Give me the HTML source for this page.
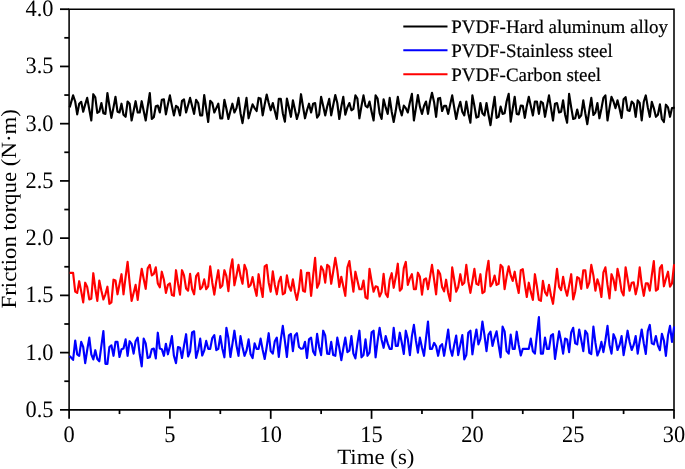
<!DOCTYPE html>
<html lang="en">
<head>
<meta charset="utf-8">
<title>Friction torque vs. time</title>
<style>
html,body{margin:0;padding:0;background:#fff;}
body{width:685px;height:469px;overflow:hidden;}
svg{display:block;will-change:transform;}
text{text-rendering:geometricPrecision;}
</style>
</head>
<body>
<svg width="685" height="469" viewBox="0 0 685 469">
<rect width="685" height="469" fill="#fff"/>
<g stroke="#000" stroke-width="1.55" fill="none" stroke-linecap="butt">
<path d="M69.1,9.2 H674.0 V409.85 H69.1 Z"/>
</g>
<g stroke="#000" stroke-width="1.75" fill="none" stroke-linecap="butt">
<path d="M60.00,409.85 H69.10"/>
<path d="M64.30,381.23 H69.10"/>
<path d="M60.00,352.61 H69.10"/>
<path d="M64.30,324.00 H69.10"/>
<path d="M60.00,295.38 H69.10"/>
<path d="M64.30,266.76 H69.10"/>
<path d="M60.00,238.14 H69.10"/>
<path d="M64.30,209.53 H69.10"/>
<path d="M60.00,180.91 H69.10"/>
<path d="M64.30,152.29 H69.10"/>
<path d="M60.00,123.67 H69.10"/>
<path d="M64.30,95.05 H69.10"/>
<path d="M60.00,66.44 H69.10"/>
<path d="M64.30,37.82 H69.10"/>
<path d="M60.00,9.20 H69.10"/>
<path d="M69.10,409.85 V418.85"/>
<path d="M119.51,409.85 V414.05"/>
<path d="M169.92,409.85 V418.85"/>
<path d="M220.32,409.85 V414.05"/>
<path d="M270.73,409.85 V418.85"/>
<path d="M321.14,409.85 V414.05"/>
<path d="M371.55,409.85 V418.85"/>
<path d="M421.96,409.85 V414.05"/>
<path d="M472.37,409.85 V418.85"/>
<path d="M522.77,409.85 V414.05"/>
<path d="M573.18,409.85 V418.85"/>
<path d="M623.59,409.85 V414.05"/>
<path d="M674.00,409.85 V418.85"/>
</g>
<path d="M69.7,107.4 L71.1,102.4 L73.1,95.4 L75.2,101.5 L77.2,114.4 L79.2,103.7 L81.2,101.8 L83.2,111.7 L85.2,104.4 L87.2,97.9 L89.3,109.5 L91.3,120.5 L93.3,94.2 L95.3,97.4 L97.3,112.9 L99.3,111.7 L101.4,103.0 L103.4,113.2 L105.4,113.9 L107.4,93.0 L109.4,105.9 L111.4,117.9 L113.5,107.4 L115.5,96.8 L117.5,111.7 L119.5,112.5 L121.5,103.7 L123.5,114.7 L125.6,116.8 L127.6,101.5 L129.6,103.7 L131.6,120.5 L133.6,111.0 L135.6,101.2 L137.7,112.5 L139.7,112.5 L141.7,101.2 L143.7,111.0 L145.7,120.5 L147.7,106.6 L149.8,93.0 L151.8,119.0 L153.8,117.3 L155.8,106.2 L157.8,105.6 L159.8,112.5 L161.8,99.8 L163.9,99.3 L165.9,114.4 L167.9,104.4 L169.9,95.4 L171.9,105.9 L173.9,115.4 L176.0,105.9 L178.0,107.4 L180.0,115.4 L182.0,100.8 L184.0,99.3 L186.1,112.5 L188.1,105.2 L190.1,97.9 L192.1,105.9 L194.1,113.9 L196.1,99.8 L198.2,103.0 L200.2,115.4 L202.2,115.4 L204.2,95.0 L206.2,108.8 L208.2,122.0 L210.2,100.8 L212.3,103.0 L214.3,112.5 L216.3,108.1 L218.3,103.7 L220.3,118.3 L222.3,118.3 L224.4,99.8 L226.4,108.8 L228.4,119.0 L230.4,111.0 L232.4,103.7 L234.4,112.5 L236.5,108.1 L238.5,97.9 L240.5,113.2 L242.5,123.1 L244.5,110.3 L246.5,97.9 L248.6,118.3 L250.6,111.0 L252.6,104.4 L254.6,108.1 L256.6,111.0 L258.6,97.9 L260.6,98.6 L262.7,115.4 L264.7,104.4 L266.7,94.5 L268.7,103.0 L270.7,110.3 L272.8,103.0 L274.8,111.0 L276.8,119.0 L278.8,98.9 L280.8,98.9 L282.8,113.2 L284.9,121.7 L286.9,98.6 L288.9,107.4 L290.9,116.8 L292.9,100.3 L294.9,109.5 L296.9,119.0 L299.0,111.7 L301.0,94.2 L303.0,106.6 L305.0,118.3 L307.0,110.3 L309.0,103.7 L311.1,112.5 L313.1,103.7 L315.1,103.0 L317.1,117.6 L319.1,114.7 L321.1,96.8 L323.2,105.9 L325.2,115.4 L327.2,106.6 L329.2,98.9 L331.2,115.4 L333.2,105.2 L335.3,95.0 L337.3,103.0 L339.3,119.0 L341.3,106.6 L343.3,96.8 L345.3,114.7 L347.4,107.4 L349.4,103.0 L351.4,110.3 L353.4,108.8 L355.4,95.4 L357.4,98.6 L359.4,118.3 L361.5,105.9 L363.5,95.4 L365.5,105.9 L367.5,107.4 L369.5,101.5 L371.6,111.7 L373.6,120.5 L375.6,95.4 L377.6,98.6 L379.6,113.2 L381.6,119.0 L383.6,99.3 L385.7,107.4 L387.7,113.9 L389.7,97.9 L391.7,111.7 L393.7,122.0 L395.8,110.3 L397.8,96.8 L399.8,108.8 L401.8,115.4 L403.8,105.6 L405.8,108.1 L407.8,112.5 L409.9,102.2 L411.9,93.9 L413.9,120.5 L415.9,108.1 L417.9,95.0 L419.9,106.6 L422.0,113.9 L424.0,105.9 L426.0,101.5 L428.0,113.9 L430.0,101.5 L432.0,92.8 L434.1,102.2 L436.1,116.8 L438.1,98.6 L440.1,97.9 L442.1,111.0 L444.1,105.9 L446.1,105.9 L448.2,113.9 L450.2,104.4 L452.2,95.4 L454.2,107.4 L456.2,119.0 L458.2,108.8 L460.3,101.8 L462.3,111.7 L464.3,115.4 L466.3,101.5 L468.3,113.2 L470.4,122.7 L472.4,95.4 L474.4,105.9 L476.4,117.6 L478.4,116.8 L480.4,103.0 L482.4,113.2 L484.5,115.4 L486.5,103.0 L488.5,114.7 L490.5,125.2 L492.5,110.3 L494.6,96.8 L496.6,117.9 L498.6,116.8 L500.6,106.6 L502.6,113.9 L504.6,113.2 L506.6,101.5 L508.7,93.9 L510.7,121.7 L512.7,108.8 L514.7,96.8 L516.7,113.9 L518.7,114.4 L520.8,105.6 L522.8,105.9 L524.8,117.9 L526.8,105.9 L528.8,96.8 L530.8,105.9 L532.9,115.4 L534.9,101.5 L536.9,101.5 L538.9,113.9 L540.9,101.5 L542.9,103.0 L545.0,116.8 L547.0,105.9 L549.0,95.4 L551.0,108.1 L553.0,120.5 L555.0,103.7 L557.0,103.0 L559.1,112.5 L561.1,111.7 L563.1,100.3 L565.1,114.7 L567.1,122.7 L569.1,93.9 L571.2,107.4 L573.2,119.0 L575.2,118.3 L577.2,109.5 L579.2,117.9 L581.2,115.4 L583.3,100.3 L585.3,113.2 L587.3,124.2 L589.3,110.3 L591.3,97.9 L593.4,115.0 L595.4,112.5 L597.4,103.0 L599.4,118.3 L601.4,108.8 L603.4,97.9 L605.4,95.4 L607.5,120.5 L609.5,108.1 L611.5,96.8 L613.5,101.5 L615.5,108.1 L617.5,100.3 L619.6,108.8 L621.6,117.9 L623.6,99.3 L625.6,97.1 L627.6,110.3 L629.6,111.0 L631.7,101.5 L633.7,103.7 L635.7,116.8 L637.7,100.3 L639.7,103.0 L641.7,120.5 L643.8,101.5 L645.8,95.4 L647.8,107.4 L649.8,116.8 L651.8,101.8 L653.8,108.1 L655.9,116.8 L657.9,114.7 L659.9,104.4 L661.9,119.0 L663.9,122.0 L665.9,104.7 L668.0,107.4 L670.0,116.8 L672.0,108.1 L674.0,107.7 L674.8,107.7" fill="none" stroke="#000000" stroke-width="2.15" stroke-linejoin="round" stroke-linecap="butt"/>
<path d="M69.7,272.9 L71.1,272.9 L73.1,272.9 L75.2,291.7 L77.2,292.9 L79.2,281.2 L81.2,291.4 L83.2,302.4 L85.2,282.7 L87.2,287.0 L89.3,299.4 L91.3,298.7 L93.3,273.2 L95.3,288.5 L97.3,300.9 L99.3,280.5 L101.4,290.7 L103.4,299.4 L105.4,294.3 L107.4,286.7 L109.4,303.8 L111.4,302.4 L113.5,279.7 L115.5,280.5 L117.5,294.3 L119.5,284.1 L121.5,274.2 L123.5,294.3 L125.6,276.8 L127.6,261.9 L129.6,282.7 L131.6,300.9 L133.6,292.9 L135.6,284.9 L137.7,299.9 L139.7,282.7 L141.7,268.8 L143.7,279.0 L145.7,288.8 L147.7,268.4 L149.8,264.9 L151.8,275.4 L153.8,273.9 L155.8,267.3 L157.8,283.4 L159.8,287.3 L161.8,271.7 L163.9,279.7 L165.9,292.9 L167.9,284.9 L169.9,283.4 L171.9,295.1 L173.9,295.8 L176.0,270.2 L178.0,283.4 L180.0,294.6 L182.0,270.2 L184.0,275.4 L186.1,288.5 L188.1,290.7 L190.1,273.9 L192.1,289.2 L194.1,294.3 L196.1,276.1 L198.2,273.2 L200.2,289.2 L202.2,287.0 L204.2,279.4 L206.2,289.2 L208.2,286.3 L210.2,266.3 L212.3,282.7 L214.3,294.6 L216.3,281.2 L218.3,270.2 L220.3,287.8 L222.3,285.6 L224.4,270.2 L226.4,276.1 L228.4,291.1 L230.4,269.5 L232.4,259.3 L234.4,285.3 L236.5,275.4 L238.5,264.9 L240.5,276.1 L242.5,283.8 L244.5,264.9 L246.5,270.2 L248.6,287.0 L250.6,284.9 L252.6,277.1 L254.6,287.8 L256.6,295.8 L258.6,274.2 L260.6,286.3 L262.7,297.0 L264.7,266.3 L266.7,264.9 L268.7,282.7 L270.7,291.7 L272.8,271.3 L274.8,284.9 L276.8,294.3 L278.8,281.9 L280.8,276.8 L282.8,294.3 L284.9,292.9 L286.9,275.4 L288.9,286.3 L290.9,290.7 L292.9,279.4 L294.9,291.4 L296.9,299.9 L299.0,288.5 L301.0,270.2 L303.0,290.7 L305.0,291.7 L307.0,272.7 L309.0,272.7 L311.1,295.8 L313.1,276.1 L315.1,257.8 L317.1,287.8 L319.1,283.4 L321.1,266.3 L323.2,270.2 L325.2,282.7 L327.2,264.9 L329.2,266.6 L331.2,283.8 L333.2,271.7 L335.3,257.8 L337.3,270.2 L339.3,287.0 L341.3,276.8 L343.3,286.3 L345.3,295.8 L347.4,267.3 L349.4,261.1 L351.4,276.8 L353.4,291.7 L355.4,271.7 L357.4,280.5 L359.4,289.2 L361.5,289.2 L363.5,280.5 L365.5,297.3 L367.5,298.7 L369.5,268.8 L371.6,281.2 L373.6,291.7 L375.6,286.3 L377.6,287.0 L379.6,296.5 L381.6,292.1 L383.6,273.9 L385.7,293.6 L387.7,297.0 L389.7,279.7 L391.7,273.2 L393.7,287.8 L395.8,276.8 L397.8,263.7 L399.8,290.7 L401.8,288.5 L403.8,268.1 L405.8,261.9 L407.8,284.9 L409.9,278.3 L411.9,274.2 L413.9,289.2 L415.9,289.2 L417.9,272.7 L419.9,276.8 L422.0,294.6 L424.0,279.7 L426.0,278.3 L428.0,289.2 L430.0,276.8 L432.0,264.9 L434.1,279.7 L436.1,294.3 L438.1,270.2 L440.1,273.9 L442.1,287.0 L444.1,291.4 L446.1,279.7 L448.2,292.9 L450.2,300.9 L452.2,267.3 L454.2,279.7 L456.2,291.7 L458.2,287.0 L460.3,274.2 L462.3,284.9 L464.3,282.7 L466.3,264.9 L468.3,281.2 L470.4,292.9 L472.4,281.2 L474.4,268.8 L476.4,283.8 L478.4,284.9 L480.4,274.2 L482.4,293.2 L484.5,291.7 L486.5,272.4 L488.5,260.8 L490.5,286.3 L492.5,283.4 L494.6,275.6 L496.6,284.9 L498.6,283.8 L500.6,264.9 L502.6,267.3 L504.6,289.2 L506.6,276.8 L508.7,266.3 L510.7,275.4 L512.7,280.9 L514.7,271.7 L516.7,284.1 L518.7,292.9 L520.8,270.2 L522.8,269.2 L524.8,284.1 L526.8,297.0 L528.8,282.7 L530.8,292.1 L532.9,299.9 L534.9,274.2 L536.9,286.3 L538.9,299.9 L540.9,300.9 L542.9,280.9 L545.0,292.1 L547.0,295.5 L549.0,284.9 L551.0,295.8 L553.0,303.8 L555.0,287.0 L557.0,268.8 L559.1,287.0 L561.1,290.2 L563.1,276.8 L565.1,288.5 L567.1,295.8 L569.1,285.6 L571.2,274.2 L573.2,299.4 L575.2,291.4 L577.2,277.1 L579.2,278.3 L581.2,288.8 L583.3,270.2 L585.3,270.2 L587.3,287.8 L589.3,282.7 L591.3,264.9 L593.4,275.4 L595.4,290.7 L597.4,279.4 L599.4,285.6 L601.4,297.0 L603.4,272.4 L605.4,267.3 L607.5,284.9 L609.5,298.4 L611.5,274.2 L613.5,279.7 L615.5,290.2 L617.5,268.8 L619.6,278.3 L621.6,291.4 L623.6,295.5 L625.6,267.3 L627.6,279.0 L629.6,290.7 L631.7,282.7 L633.7,282.4 L635.7,294.3 L637.7,285.6 L639.7,267.3 L641.7,284.1 L643.8,295.8 L645.8,283.4 L647.8,283.4 L649.8,290.7 L651.8,275.4 L653.8,261.1 L655.9,290.7 L657.9,289.2 L659.9,268.1 L661.9,265.1 L663.9,286.3 L665.9,279.0 L668.0,271.7 L670.0,286.7 L672.0,283.4 L674.0,265.1 L674.8,265.1" fill="none" stroke="#ff0000" stroke-width="2.15" stroke-linejoin="round" stroke-linecap="butt"/>
<path d="M69.7,356.1 L71.1,357.6 L73.1,359.9 L75.2,340.5 L77.2,354.3 L79.2,355.8 L81.2,341.9 L83.2,347.0 L85.2,363.1 L87.2,350.0 L89.3,337.6 L91.3,354.3 L93.3,359.4 L95.3,350.2 L97.3,359.0 L99.3,361.3 L101.4,345.6 L103.4,331.0 L105.4,363.8 L107.4,363.8 L109.4,347.0 L111.4,345.3 L113.5,355.8 L115.5,341.9 L117.5,341.9 L119.5,357.0 L121.5,349.2 L123.5,348.5 L125.6,339.4 L127.6,355.8 L129.6,341.2 L131.6,343.8 L133.6,353.6 L135.6,341.2 L137.7,337.6 L139.7,354.3 L141.7,366.3 L143.7,338.6 L145.7,343.4 L147.7,358.0 L149.8,357.3 L151.8,349.2 L153.8,348.5 L155.8,358.4 L157.8,332.7 L159.8,348.5 L161.8,349.2 L163.9,355.8 L165.9,343.8 L167.9,354.3 L169.9,346.3 L171.9,336.1 L173.9,355.8 L176.0,363.1 L178.0,347.0 L180.0,347.8 L182.0,358.0 L184.0,345.6 L186.1,334.2 L188.1,356.5 L190.1,351.4 L192.1,332.4 L194.1,331.3 L196.1,358.0 L198.2,350.0 L200.2,338.6 L202.2,355.5 L204.2,350.7 L206.2,340.9 L208.2,348.8 L210.2,348.8 L212.3,338.0 L214.3,335.1 L216.3,350.2 L218.3,348.8 L220.3,336.1 L222.3,348.5 L224.4,357.3 L226.4,327.8 L228.4,338.3 L230.4,357.0 L232.4,344.1 L234.4,330.7 L236.5,345.6 L238.5,355.8 L240.5,336.1 L242.5,347.0 L244.5,355.8 L246.5,350.7 L248.6,339.4 L250.6,354.3 L252.6,358.0 L254.6,343.4 L256.6,348.8 L258.6,348.8 L260.6,338.6 L262.7,350.0 L264.7,359.0 L266.7,347.0 L268.7,333.2 L270.7,351.1 L272.8,353.6 L274.8,341.2 L276.8,337.6 L278.8,357.0 L280.8,339.7 L282.8,325.9 L284.9,341.2 L286.9,357.0 L288.9,335.4 L290.9,333.9 L292.9,351.1 L294.9,335.4 L296.9,333.2 L299.0,347.0 L301.0,348.8 L303.0,348.5 L305.0,341.9 L307.0,358.0 L309.0,339.4 L311.1,337.6 L313.1,351.4 L315.1,355.1 L317.1,333.9 L319.1,347.0 L321.1,355.1 L323.2,330.7 L325.2,335.4 L327.2,353.6 L329.2,354.0 L331.2,341.9 L333.2,355.1 L335.3,355.8 L337.3,337.6 L339.3,347.8 L341.3,360.2 L343.3,348.5 L345.3,337.6 L347.4,352.1 L349.4,350.7 L351.4,336.1 L353.4,353.6 L355.4,358.4 L357.4,343.4 L359.4,330.7 L361.5,357.3 L363.5,355.1 L365.5,339.4 L367.5,355.8 L369.5,352.6 L371.6,332.4 L373.6,330.7 L375.6,357.3 L377.6,341.2 L379.6,327.8 L381.6,339.7 L383.6,347.8 L385.7,336.1 L387.7,343.4 L389.7,348.8 L391.7,348.8 L393.7,327.8 L395.8,345.9 L397.8,345.9 L399.8,332.7 L401.8,342.7 L403.8,354.0 L405.8,330.7 L407.8,339.0 L409.9,355.1 L411.9,336.1 L413.9,324.9 L415.9,340.5 L417.9,352.6 L419.9,337.6 L422.0,347.8 L424.0,355.8 L426.0,338.3 L428.0,321.5 L430.0,348.8 L432.0,348.8 L434.1,342.9 L436.1,346.3 L438.1,355.8 L440.1,346.3 L442.1,344.1 L444.1,355.8 L446.1,343.4 L448.2,329.5 L450.2,348.5 L452.2,355.8 L454.2,344.9 L456.2,335.6 L458.2,355.1 L460.3,344.9 L462.3,335.1 L464.3,359.4 L466.3,355.1 L468.3,332.7 L470.4,330.7 L472.4,354.3 L474.4,340.5 L476.4,329.5 L478.4,344.4 L480.4,339.0 L482.4,321.5 L484.5,335.4 L486.5,351.1 L488.5,334.6 L490.5,331.7 L492.5,345.9 L494.6,337.6 L496.6,331.3 L498.6,344.9 L500.6,357.3 L502.6,326.6 L504.6,331.3 L506.6,351.1 L508.7,353.6 L510.7,334.6 L512.7,348.8 L514.7,348.8 L516.7,331.7 L518.7,344.9 L520.8,355.5 L522.8,348.8 L524.8,348.8 L526.8,348.8 L528.8,348.8 L530.8,338.6 L532.9,351.4 L534.9,353.6 L536.9,334.6 L538.9,317.1 L540.9,353.6 L542.9,353.6 L545.0,337.6 L547.0,348.8 L549.0,348.8 L551.0,335.6 L553.0,334.2 L555.0,359.0 L557.0,345.6 L559.1,331.3 L561.1,341.2 L563.1,353.6 L565.1,338.6 L567.1,339.4 L569.1,352.1 L571.2,332.4 L573.2,327.8 L575.2,343.4 L577.2,344.4 L579.2,329.5 L581.2,339.7 L583.3,351.1 L585.3,330.7 L587.3,333.9 L589.3,352.9 L591.3,354.0 L593.4,326.6 L595.4,342.7 L597.4,355.5 L599.4,350.7 L601.4,341.9 L603.4,352.1 L605.4,340.5 L607.5,325.9 L609.5,344.9 L611.5,353.6 L613.5,334.2 L615.5,339.0 L617.5,350.0 L619.6,344.9 L621.6,336.1 L623.6,355.1 L625.6,343.4 L627.6,330.7 L629.6,341.9 L631.7,350.0 L633.7,344.9 L635.7,336.1 L637.7,353.6 L639.7,341.2 L641.7,329.5 L643.8,343.4 L645.8,354.0 L647.8,331.0 L649.8,324.9 L651.8,343.4 L653.8,344.4 L655.9,336.1 L657.9,345.6 L659.9,350.2 L661.9,333.9 L663.9,340.5 L665.9,355.8 L668.0,335.4 L670.0,325.9 L672.0,341.9 L674.0,327.3 L674.8,327.3" fill="none" stroke="#0000ff" stroke-width="2.15" stroke-linejoin="round" stroke-linecap="butt"/>
<g font-family="'Liberation Serif', serif" font-size="22.4" fill="#000">
<text transform="translate(53.5,416.85) scale(1,1.05)" text-anchor="end">0.5</text>
<text transform="translate(53.5,359.61) scale(1,1.05)" text-anchor="end">1.0</text>
<text transform="translate(53.5,302.38) scale(1,1.05)" text-anchor="end">1.5</text>
<text transform="translate(53.5,245.14) scale(1,1.05)" text-anchor="end">2.0</text>
<text transform="translate(53.5,187.91) scale(1,1.05)" text-anchor="end">2.5</text>
<text transform="translate(53.5,130.67) scale(1,1.05)" text-anchor="end">3.0</text>
<text transform="translate(53.5,73.44) scale(1,1.05)" text-anchor="end">3.5</text>
<text transform="translate(53.5,16.20) scale(1,1.05)" text-anchor="end">4.0</text>
<text transform="translate(69.10,441.7) scale(1,1.05)" text-anchor="middle">0</text>
<text transform="translate(169.92,441.7) scale(1,1.05)" text-anchor="middle">5</text>
<text transform="translate(270.73,441.7) scale(1,1.05)" text-anchor="middle">10</text>
<text transform="translate(371.55,441.7) scale(1,1.05)" text-anchor="middle">15</text>
<text transform="translate(472.37,441.7) scale(1,1.05)" text-anchor="middle">20</text>
<text transform="translate(573.18,441.7) scale(1,1.05)" text-anchor="middle">25</text>
<text transform="translate(674.00,441.7) scale(1,1.05)" text-anchor="middle">30</text>
</g>
<text transform="translate(375.8,463.8) scale(1.055,1)" text-anchor="middle" font-family="'Liberation Serif', serif" font-size="21.7" fill="#000">Time (s)</text>
<text transform="translate(15.6,208.8) rotate(-90) scale(1.055,1)" text-anchor="middle" font-family="'Liberation Serif', serif" font-size="21.7" fill="#000">Friction torque (N·m)</text>
<path d="M403.3,26.4 H447.5" stroke="#000000" stroke-width="2" fill="none"/>
<text x="451.2" y="33.20" font-family="'Liberation Serif', serif" font-size="18.95" fill="#000" stroke="#000" stroke-width="0.2">PVDF-Hard aluminum alloy</text>
<path d="M403.3,50.3 H447.5" stroke="#0000ff" stroke-width="2" fill="none"/>
<text x="451.2" y="57.10" font-family="'Liberation Serif', serif" font-size="18.95" fill="#000" stroke="#000" stroke-width="0.2">PVDF-Stainless steel</text>
<path d="M403.3,74.2 H447.5" stroke="#ff0000" stroke-width="2" fill="none"/>
<text x="451.2" y="81.00" font-family="'Liberation Serif', serif" font-size="18.95" fill="#000" stroke="#000" stroke-width="0.2">PVDF-Carbon steel</text>
</svg>
</body>
</html>
